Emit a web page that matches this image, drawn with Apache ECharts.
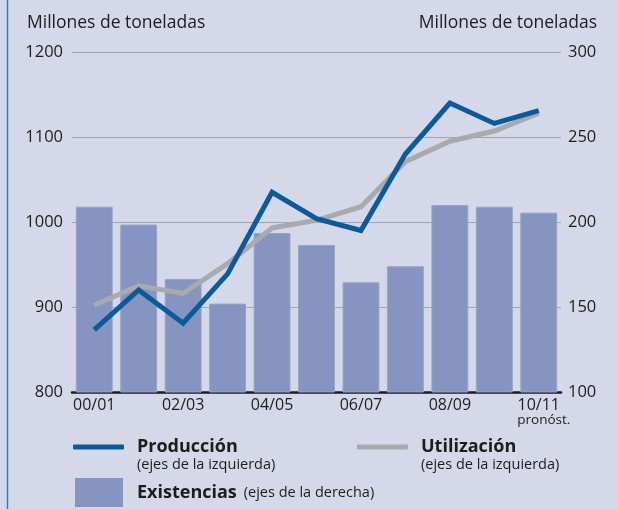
<!DOCTYPE html>
<html>
<head>
<meta charset="utf-8">
<script src="https://cdn.jsdelivr.net/npm/echarts@6/dist/echarts.min.js"></script>
<style>
html,body{margin:0;padding:0;background:#d5d8e8;}
#c{width:618px;height:509px;}
</style>
</head>
<body>
<div id="c"></div>
<script>
const categories = ['00/01','01/02','02/03','03/04','04/05','05/06','06/07','07/08','08/09','09/10','10/11'];
const produccion = [873, 920, 881, 939, 1035, 1004, 990, 1080, 1140, 1116, 1131];
const utilizacion = [902, 925, 916, 951, 993, 1002, 1018, 1071, 1095, 1107, 1128];
const existencias = [209, 198.5, 166.5, 152, 193.5, 186.5, 164.5, 174, 210, 209, 205.5];
const leftTicks = {min: 800, max: 1200, interval: 100};
const rightTicks = {min: 100, max: 300, interval: 50};

const FONT = '"Open Sans", sans-serif';
const TXT = '#1d1d1b';
const chart = echarts.init(document.getElementById('c'), null, {renderer: 'canvas'});
chart.setOption({
  animation: false,
  backgroundColor: '#d5d8e8',
  textStyle: {fontFamily: FONT, color: TXT},
  grid: {left: 72, right: 57, top: 52, height: 340},
  xAxis: {
    type: 'category',
    data: categories,
    axisLine: {lineStyle: {color: '#1d1d1b', width: 2.5}},
    axisTick: {show: false},
    axisLabel: {
      interval: 1, margin: 5, fontSize: 16, color: TXT, fontFamily: FONT, lineHeight: 16,
      formatter: v => v === '10/11' ? '10/11\n{p|pronóst.}' : v,
      rich: {p: {fontSize: 13.5, fontFamily: FONT, color: TXT, lineHeight: 15, padding: [0, 0, 0, 10]}}
    }
  },
  yAxis: [
    {
      type: 'value', min: leftTicks.min, max: leftTicks.max, interval: leftTicks.interval,
      axisLine: {show: false}, axisTick: {show: false},
      axisLabel: {margin: 9, fontSize: 16.5, color: TXT, fontFamily: FONT, formatter: v => String(v)},
      splitLine: {lineStyle: {color: '#a3a5ad', width: 1}}
    },
    {
      type: 'value', min: rightTicks.min, max: rightTicks.max, interval: rightTicks.interval,
      position: 'right',
      axisLine: {show: false}, axisTick: {show: false},
      axisLabel: {margin: 7, fontSize: 16.5, color: TXT, fontFamily: FONT, formatter: v => String(v)},
      splitLine: {show: false}
    }
  ],
  legend: [
    {
      data: ['Producción'], left: 73, top: 437, padding: 0, itemWidth: 51, itemHeight: 5, icon: 'roundRect',
      textStyle: {fontSize: 18, fontWeight: 'bold', color: TXT, fontFamily: FONT, lineHeight: 20, padding: [0, 0, 0, 8]}
    },
    {
      data: ['Utilización'], left: 357, top: 437, padding: 0, itemWidth: 51, itemHeight: 5, icon: 'roundRect',
      textStyle: {fontSize: 18, fontWeight: 'bold', color: TXT, fontFamily: FONT, lineHeight: 20, padding: [0, 0, 0, 8]}
    },
    {
      data: ['Existencias'], left: 75, top: 478, padding: 0, itemWidth: 48, itemHeight: 29, icon: 'rect',
      itemStyle: {borderWidth: 0},
      formatter: '{a|Existencias}{b|(ejes de la derecha)}',
      textStyle: {
        padding: [0, 0, 0, 9],
        rich: {
          a: {fontSize: 18, fontWeight: 'bold', color: TXT, fontFamily: FONT},
          b: {fontSize: 14.5, color: TXT, fontFamily: FONT, padding: [0, 0, 0, 7]}
        }
      }
    }
  ],
  graphic: [
    {type: 'line', shape: {x1: 7.5, y1: 0, x2: 7.5, y2: 509}, style: {stroke: '#3b78b6', lineWidth: 1.5}, silent: true},
    {type: 'text', left: 27, top: 14, style: {text: 'Millones de toneladas', font: '17.5px ' + FONT, fill: TXT}},
    {type: 'text', right: 21, top: 14, style: {text: 'Millones de toneladas', font: '17.5px ' + FONT, fill: TXT}},
    {type: 'text', left: 137, top: 457, style: {text: '(ejes de la izquierda)', font: '14.5px ' + FONT, fill: TXT}},
    {type: 'text', left: 421, top: 457, style: {text: '(ejes de la izquierda)', font: '14.5px ' + FONT, fill: TXT}}
  ],
  series: [
    {
      name: 'Existencias', type: 'bar', yAxisIndex: 1, data: existencias,
      barCategoryGap: '17%',
      itemStyle: {color: '#8594c0', borderColor: '#98a4cb', borderWidth: 1}
    },
    {
      name: 'Utilización', type: 'line', yAxisIndex: 0, data: utilizacion,
      symbol: 'none', lineStyle: {color: '#a9aaad', width: 5, join: 'miter'}, itemStyle: {color: '#a9aaad'}
    },
    {
      name: 'Producción', type: 'line', yAxisIndex: 0, data: produccion,
      symbol: 'none', lineStyle: {color: '#0b5b9a', width: 5, join: 'miter'}, itemStyle: {color: '#0b5b9a'}
    }
  ]
});
</script>
</body>
</html>
